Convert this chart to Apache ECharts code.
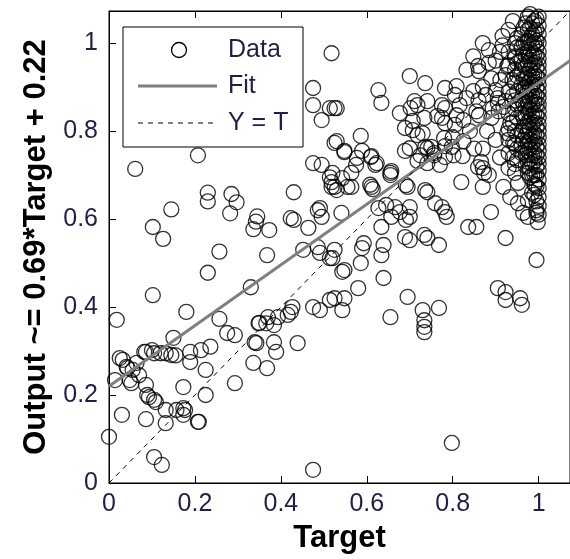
<!DOCTYPE html>
<html>
<head>
<meta charset="utf-8">
<script src="https://cdn.jsdelivr.net/npm/echarts@6/dist/echarts.min.js"></script>
<style>
  html, body { margin: 0; padding: 0; background: #fff; }
  #chart { width: 570px; height: 559px; }
</style>
</head>
<body>
<div id="chart"></div>
<script>
// scattered points (Target, Output)
var targets = [
  0.061, 0.207, 0.23, 0.23, 0.285, 0.297, 0.282, 0.145, 0.102, 0.126, 0.345, 0.342, 0.336, 0.373, 0.257, 0.368,
  0.23, 0.102, 0.18, 0.018, 0.33, 0.257, 0.43, 0.475, 0.495, 0.514, 0.518, 0.423, 0.43, 0.464, 0.491, 0.495,
  0.452, 0.486, 0.491, 0.514, 0.427, 0.423, 0.475, 0.491, 0.514, 0.37, 0.348, 0.416, 0.15, 0.032, 0.086, 0.105,
  0.132, 0.155, 0.189, 0.214, 0.236, 0.189, 0.064, 0.043, 0.014, 0.052, 0.07, 0.086, 0.089, 0.105, 0.132, 0.157,
  0.173, 0.173, 0.132, 0.209, 0.173, 0.225, 0.225, 0.03, 0.086, 0.0, 0.105, 0.123, 0.293, 0.275, 0.293, 0.343,
  0.336, 0.368, 0.384, 0.389, 0.439, 0.366, 0.384, 0.475, 0.798, 0.025, 0.041, 0.055, 0.048, 0.093, 0.109, 0.12,
  0.1, 0.082, 0.145, 0.177, 0.207, 0.339, 0.35, 0.393,
  0.611, 0.614, 0.608, 0.655, 0.695, 0.741, 0.759, 0.775, 0.782, 0.786, 0.82, 0.87, 0.884, 0.541, 0.627, 0.645,
  0.666, 0.677, 0.7, 0.7, 0.657, 0.634, 0.689, 0.7, 0.734, 0.741, 0.768, 0.593, 0.639, 0.634, 0.586, 0.543,
  0.52, 0.639, 0.58, 0.548, 0.525, 0.543, 0.695, 0.655, 0.73, 0.768, 0.734, 0.734, 0.734, 0.855, 0.889, 0.923,
  0.995, 0.905, 0.923, 0.923, 0.957, 0.961, 0.952, 0.975, 0.995, 0.975, 0.998, 0.952, 0.991, 0.52, 0.543, 0.564,
  0.53, 0.525, 0.548, 0.589, 0.691, 0.836,
  0.518, 0.7, 0.736, 0.627, 0.634, 0.677, 0.782, 0.718, 0.741, 0.734, 0.764, 0.809, 0.816, 0.848, 0.884, 0.916,
  0.95, 0.911, 0.861, 0.832, 0.848, 0.877, 0.905, 0.855, 0.782, 0.514, 0.53, 0.53, 0.586, 0.548, 0.589, 0.611,
  0.575, 0.62, 0.657, 0.7, 0.718, 0.725, 0.741, 0.757, 0.78, 0.782, 0.802, 0.825, 0.689, 0.718, 0.741, 0.77,
  0.87, 0.93, 0.805, 0.832, 0.809, 0.825, 0.861, 0.893, 0.923, 0.907, 0.775, 0.711, 0.702, 0.707, 0.775, 0.782,
  0.805, 0.689, 0.9, 0.939, 0.927, 0.945, 0.916, 0.884, 0.859, 0.923, 0.475, 0.475, 0.525, 0.495, 0.525, 0.548,
  0.577, 0.609, 0.623, 0.564, 0.655, 0.518, 0.525, 0.555, 0.691, 0.736, 0.486, 0.707, 0.73, 0.736, 0.75, 0.757,
  0.782, 0.798, 0.8, 0.823, 0.859, 0.873, 0.866, 0.918, 0.934, 0.927, 0.941, 0.95, 0.945, 0.918, 0.934, 0.964, 0.905,
  0.87, 0.89, 0.86, 0.88, 0.9, 0.87, 0.91, 0.84, 0.85, 0.89, 0.9, 0.87, 0.91, 0.93, 0.94,
  1.0, 1.0, 1.0, 1.0, 1.0, 1.0, 1.0, 1.0, 1.0, 1.0, 1.0, 1.0, 1.0, 1.0, 1.0, 1.0, 1.0, 1.0, 1.0, 1.0, 1.0, 1.0, 1.0, 1.0, 1.0, 1.0, 1.0, 1.0,
  0.995, 0.995, 0.995, 0.995, 0.995, 0.995, 0.995, 0.995, 0.995, 0.995, 0.995, 0.995, 0.995, 0.995, 0.995, 0.995, 0.995, 0.995, 0.995, 0.995,
  0.99, 0.99, 0.99, 0.99, 0.99, 0.99, 0.99, 0.99, 0.99, 0.99, 0.99, 0.99, 0.99, 0.99, 0.99, 0.99, 0.99, 0.99,
  0.985, 0.985, 0.985, 0.985, 0.985, 0.985, 0.985, 0.985, 0.985, 0.985, 0.985, 0.985, 0.985, 0.985, 0.985, 0.985, 0.985,
  0.98, 0.98, 0.98, 0.98, 0.98, 0.98, 0.98, 0.98, 0.98, 0.98, 0.98, 0.98, 0.98, 0.98, 0.98, 0.98, 0.98,
  0.975, 0.975, 0.975, 0.975, 0.975, 0.975, 0.975, 0.975, 0.975, 0.975, 0.975, 0.975, 0.975, 0.975, 0.975, 0.975,
  0.97, 0.97, 0.97, 0.97, 0.97, 0.97, 0.97, 0.97, 0.97, 0.97, 0.97, 0.97, 0.97, 0.97,
  0.965, 0.965, 0.965, 0.965, 0.965, 0.965, 0.965, 0.965, 0.965, 0.965,
  0.96, 0.96, 0.96, 0.96, 0.96, 0.96, 0.96, 0.96, 0.96, 0.96,
  0.95, 0.95, 0.95, 0.95, 0.95, 0.95, 0.95, 0.95, 0.94, 0.94, 0.94,
  0.945, 0.945, 0.945, 0.945, 0.945, 0.945, 0.945, 0.945, 0.945,
  0.93, 0.93, 0.93, 0.93, 0.93, 0.93, 0.93
];
var outputs = [
  0.714, 0.745, 0.66, 0.64, 0.657, 0.638, 0.613, 0.622, 0.582, 0.555, 0.606, 0.594, 0.577, 0.575, 0.526, 0.518,
  0.478, 0.427, 0.389, 0.371, 0.445, 0.373, 0.661, 0.727, 0.723, 0.695, 0.673, 0.602, 0.598, 0.58, 0.625, 0.605,
  0.53, 0.536, 0.523, 0.511, 0.4, 0.389, 0.4, 0.393, 0.416, 0.377, 0.363, 0.382, 0.33, 0.28, 0.298, 0.295,
  0.295, 0.29, 0.298, 0.302, 0.31, 0.275, 0.273, 0.261, 0.234, 0.227, 0.245, 0.223, 0.2, 0.189, 0.166, 0.166,
  0.17, 0.155, 0.136, 0.139, 0.218, 0.257, 0.2, 0.155, 0.145, 0.105, 0.059, 0.041, 0.227, 0.341, 0.336, 0.318,
  0.273, 0.261, 0.32, 0.298, 0.318, 0.363, 0.359, 0.03, 0.091, 0.284, 0.264, 0.257, 0.234, 0.195, 0.184, 0.295,
  0.302, 0.298, 0.291, 0.166, 0.139, 0.32, 0.364, 0.377,
  0.673, 0.668, 0.678, 0.7, 0.673, 0.661, 0.636, 0.627, 0.616, 0.605, 0.684, 0.673, 0.7, 0.614, 0.625, 0.632,
  0.627, 0.616, 0.627, 0.605, 0.605, 0.582, 0.559, 0.552, 0.564, 0.557, 0.541, 0.545, 0.541, 0.518, 0.5, 0.48,
  0.511, 0.466, 0.443, 0.42, 0.42, 0.393, 0.423, 0.377, 0.393, 0.398, 0.37, 0.355, 0.343, 0.582, 0.616, 0.557,
  0.507, 0.443, 0.434, 0.416, 0.42, 0.405, 0.636, 0.643, 0.614, 0.605, 0.593, 0.682, 0.677, 0.705, 0.693, 0.673,
  0.666, 0.53, 0.484, 0.534, 0.598, 0.582,
  0.977, 0.925, 0.909, 0.893, 0.864, 0.841, 0.898, 0.859, 0.868, 0.83, 0.834, 0.902, 0.859, 0.97, 0.984, 1.016,
  1.011, 0.916, 0.936, 0.939, 0.891, 0.882, 0.875, 0.845, 0.852, 0.852, 0.852, 0.777, 0.789, 0.755, 0.755, 0.743,
  0.723, 0.723, 0.709, 0.761, 0.791, 0.745, 0.761, 0.745, 0.784, 0.766, 0.745, 0.777, 0.755, 0.732, 0.727, 0.723,
  0.716, 0.716, 0.882, 0.875, 0.836, 0.825, 0.836, 0.852, 0.868, 0.845, 0.859, 0.868, 0.852, 0.823, 0.83, 0.818,
  0.814, 0.807, 0.893, 0.916, 0.948, 0.966, 0.995, 0.955, 0.948, 0.927, 0.898, 0.859, 0.852, 0.825, 0.773, 0.752,
  0.739, 0.741, 0.727, 0.705, 0.705, 0.684, 0.673, 0.673, 0.677, 0.666, 0.62, 0.802, 0.795, 0.764, 0.764, 0.75,
  0.741, 0.764, 0.786, 0.743, 0.718, 0.705, 0.73, 0.855, 0.818, 0.795, 0.773, 0.734, 0.705, 0.673, 0.65, 0.614, 0.864,
  0.9, 0.92, 0.87, 0.8, 0.78, 0.76, 0.74, 0.8, 0.76, 0.83, 0.96, 1.0, 0.98, 1.03, 1.05,
  1.06, 1.04, 1.02, 1.0, 0.98, 0.965, 0.95, 0.935, 0.92, 0.905, 0.89, 0.875, 0.86, 0.845, 0.83, 0.815, 0.8, 0.785, 0.77, 0.755, 0.74, 0.725, 0.71, 0.69, 0.67, 0.65, 0.63, 0.61,
  1.055, 1.03, 1.005, 0.99, 0.97, 0.945, 0.925, 0.9, 0.88, 0.86, 0.835, 0.81, 0.79, 0.765, 0.745, 0.72, 0.7, 0.675, 0.64, 0.62,
  1.05, 1.025, 1.0, 0.975, 0.955, 0.93, 0.91, 0.885, 0.865, 0.84, 0.82, 0.795, 0.775, 0.75, 0.73, 0.7, 0.68, 0.655,
  1.045, 1.02, 0.995, 0.97, 0.95, 0.925, 0.905, 0.88, 0.86, 0.835, 0.815, 0.79, 0.77, 0.745, 0.725, 0.7, 0.66,
  1.066, 1.035, 1.01, 0.985, 0.96, 0.94, 0.915, 0.895, 0.87, 0.85, 0.825, 0.805, 0.78, 0.76, 0.735, 0.715, 0.695,
  1.06, 1.03, 1.005, 0.98, 0.955, 0.93, 0.91, 0.89, 0.865, 0.845, 0.82, 0.8, 0.775, 0.755, 0.73, 0.705,
  1.045, 1.0, 0.97, 0.945, 0.92, 0.9, 0.88, 0.855, 0.835, 0.81, 0.79, 0.765, 0.745, 0.72,
  1.035, 1.0, 0.975, 0.95, 0.92, 0.895, 0.86, 0.83, 0.81, 0.78,
  1.02, 0.99, 0.96, 0.93, 0.905, 0.87, 0.84, 0.8, 0.77, 0.75,
  0.99, 0.955, 0.925, 0.89, 0.86, 0.83, 0.79, 0.76, 0.88, 0.82, 0.74,
  1.0, 0.97, 0.94, 0.91, 0.87, 0.85, 0.8, 0.77, 0.725,
  0.98, 0.95, 0.89, 0.84, 0.805, 0.78, 0.75
];
var fitLine = [[0, 0.22], [1.073, 0.960]];
var identityLine = [[0, 0], [1.073, 1.073]];
var axisTicks = [0, 0.2, 0.4, 0.6, 0.8, 1];
var legendNames = ['Data', 'Fit', 'Y = T'];

var font = '"Liberation Sans", Arial, sans-serif';
var labelColor = '#1f1f4a';

var points = targets.map(function(t, i) { return [t, outputs[i]]; });

var chart = echarts.init(document.getElementById('chart'));

var axisBase = {
  type: 'value',
  min: 0,
  max: 1.073,
  interval: 0.2,
  splitLine: { show: false },
  axisLine: { show: true, onZero: false, lineStyle: { color: '#000', width: 1 } },
  axisTick: { show: true, inside: true, length: 7, lineStyle: { color: '#000' } }
};

var tickLabel = {
  show: true,
  fontFamily: font,
  fontSize: 25,
  color: labelColor,
  showMaxLabel: false,
  formatter: function(v) {
    return axisTicks.indexOf(Math.round(v * 10) / 10) >= 0 ? String(v) : '';
  }
};

var option = {
  backgroundColor: '#fff',
  animation: false,
  grid: {
    left: 109, top: 11, width: 470, height: 472,
    show: true, borderColor: '#000', borderWidth: 1, backgroundColor: 'transparent'
  },
  xAxis: [
    Object.assign({}, axisBase, {
      position: 'bottom',
      name: 'Target',
      nameLocation: 'middle',
      nameGap: 40,
      nameTextStyle: { fontFamily: font, fontSize: 31, fontWeight: 'bold', color: '#000' },
      axisLabel: Object.assign({}, tickLabel, { margin: 9 })
    }),
    Object.assign({}, axisBase, { position: 'top', axisLabel: { show: false } })
  ],
  yAxis: [
    Object.assign({}, axisBase, {
      position: 'left',
      name: 'Output ~= 0.69*Target + 0.22',
      nameLocation: 'middle',
      nameGap: 57,
      nameTextStyle: { fontFamily: font, fontSize: 31, fontWeight: 'bold', color: '#000' },
      axisLabel: Object.assign({}, tickLabel, { margin: 11 })
    })
  ],
  series: [
    {
      name: legendNames[0],
      type: 'scatter',
      data: points,
      symbol: 'circle',
      symbolSize: 15,
      itemStyle: { color: 'rgba(0,0,0,0)', borderColor: '#000', borderWidth: 1.3 },
      z: 2
    },
    {
      name: legendNames[1],
      type: 'line',
      data: fitLine,
      showSymbol: false,
      symbol: 'none',
      lineStyle: { color: '#7f7f7f', width: 3 },
      z: 3
    },
    {
      name: legendNames[2],
      type: 'line',
      data: identityLine,
      showSymbol: false,
      symbol: 'none',
      lineStyle: { color: '#000', width: 1, type: [5, 5] },
      z: 4
    }
  ],
  graphic: [
    { type: 'rect', z: 100, shape: { x: 123, y: 27, width: 180, height: 120 },
      style: { fill: '#fff', stroke: '#000', lineWidth: 1 } },
    { type: 'circle', z: 101, shape: { cx: 179, cy: 50, r: 7.5 },
      style: { fill: 'none', stroke: '#000', lineWidth: 1.3 } },
    { type: 'line', z: 101, shape: { x1: 138, y1: 86, x2: 217, y2: 86 },
      style: { stroke: '#7f7f7f', lineWidth: 3 } },
    { type: 'line', z: 101, shape: { x1: 138, y1: 123, x2: 217, y2: 123 },
      style: { stroke: '#000', lineWidth: 1, lineDash: [5, 5] } },
    { type: 'text', z: 101, x: 228, y: 50,
      style: { text: legendNames[0], font: '25px ' + font, fill: labelColor, verticalAlign: 'middle' } },
    { type: 'text', z: 101, x: 228, y: 86,
      style: { text: legendNames[1], font: '25px ' + font, fill: labelColor, verticalAlign: 'middle' } },
    { type: 'text', z: 101, x: 228, y: 123,
      style: { text: legendNames[2], font: '25px ' + font, fill: labelColor, verticalAlign: 'middle' } }
  ]
};

chart.setOption(option);
</script>
</body>
</html>
